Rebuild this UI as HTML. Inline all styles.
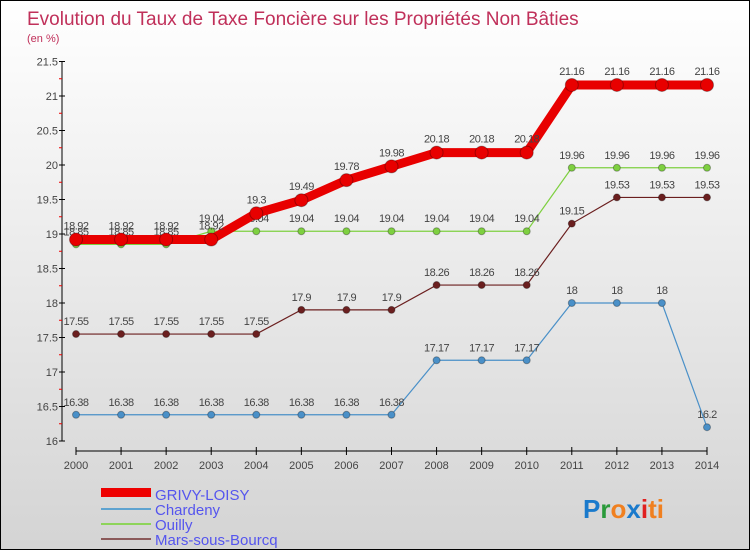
<!DOCTYPE html>
<html><head><meta charset="utf-8"><style>
body{margin:0}
#c{width:748px;height:548px;border:1px solid #000;background:linear-gradient(#fff,#d4d4d4);position:relative;font-family:"Liberation Sans",sans-serif;overflow:hidden}
</style></head><body>
<div id="c">
<svg id="s" width="748" height="548" xmlns="http://www.w3.org/2000/svg">
<text x="26" y="24" font-size="19" fill="#c0305a">Evolution du Taux de Taxe Foncière sur les Propriétés Non Bâties</text>
<text x="26" y="41" font-size="11" fill="#c0305a">(en %)</text>
<g id="axes"></g><g id="series"></g>
<g>
<rect x="100" y="487" width="50" height="9" fill="#e00"/>
<text x="154" y="499" font-size="15" fill="#5555ee">GRIVY-LOISY</text>
<rect x="100" y="507" width="50" height="2" fill="#5ea3d0"/>
<text x="154" y="514" font-size="15" fill="#5555ee">Chardeny</text>
<rect x="100" y="522" width="50" height="2" fill="#8ed45a"/>
<text x="154" y="529" font-size="15" fill="#5555ee">Ouilly</text>
<rect x="100" y="537" width="50" height="2" fill="#8b5a5a"/>
<text x="154" y="544" font-size="15" fill="#5555ee">Mars-sous-Bourcq</text>
</g>
<text x="582" y="517" font-size="26" font-weight="bold"><tspan fill="#1a7acc">P</tspan><tspan fill="#2a9a3a">r</tspan><tspan fill="#f08020">o</tspan><tspan fill="#1a7acc">x</tspan><tspan fill="#e02020">i</tspan><tspan fill="#f08020">ti</tspan></text>
</svg></div>
<script>
const years=[2000,2001,2002,2003,2004,2005,2006,2007,2008,2009,2010,2011,2012,2013,2014];
const yTicks=[16,16.5,17,17.5,18,18.5,19,19.5,20,20.5,21,21.5];
const grivy=[18.92,18.92,18.92,18.92,19.3,19.49,19.78,19.98,20.18,20.18,20.18,21.16,21.16,21.16,21.16];
const chardeny=[16.38,16.38,16.38,16.38,16.38,16.38,16.38,16.38,17.17,17.17,17.17,18,18,18,16.2];
const ouilly=[18.85,18.85,18.85,19.04,19.04,19.04,19.04,19.04,19.04,19.04,19.04,19.96,19.96,19.96,19.96];
const mars=[17.55,17.55,17.55,17.55,17.55,17.9,17.9,17.9,18.26,18.26,18.26,19.15,19.53,19.53,19.53];
const NS="http://www.w3.org/2000/svg";
const X=i=>75+i*(631/14), Y=v=>440-(v-16)*69;
function mk(t,a,p){const e=document.createElementNS(NS,t);for(const k in a)e.setAttribute(k,a[k]);p.appendChild(e);return e;}
const ax=document.getElementById('axes'), se=document.getElementById('series');
let l=mk('line',{x1:61,y1:60,x2:61,y2:440,stroke:'#000'},ax);


l=mk('line',{x1:75,y1:450,x2:706,y2:450,stroke:'#000'},ax);


yTicks.forEach(v=>{
 mk('line',{x1:58,y1:Y(v),x2:64,y2:Y(v),stroke:'#000'},ax);
 if(v<21.5) mk('line',{x1:58,y1:Y(v+0.25),x2:61,y2:Y(v+0.25),stroke:'#e00'},ax);
 const t=mk('text',{x:57,y:Y(v)+4,'font-size':11,'text-anchor':'end',fill:'#444'},ax);
 t.textContent=v;
 
 
});
years.forEach((y,i)=>{
 mk('line',{x1:X(i),y1:446,x2:X(i),y2:454,stroke:'#000'},ax);
 const t=mk('text',{x:X(i),y:468,'font-size':11,'text-anchor':'middle',fill:'#444'},ax);
 t.textContent=y;
 
 
});
function draw(vals,color,w,r,name,dy){
 const g=mk('g',{},se);
 
 
 const p=mk('polyline',{points:vals.map((v,i)=>X(i)+','+Y(v)).join(' '),fill:'none',stroke:color,'stroke-width':w},g);
 
 
 vals.forEach((v,i)=>{
  const c=mk('circle',{cx:X(i),cy:Y(v),r:r,fill:color,stroke:'rgba(0,0,0,0.3)'},g);
  
  
  const t=mk('text',{x:X(i),y:Y(v)-dy,'font-size':11,'text-anchor':'middle',fill:'#444','letter-spacing':'-0.5'},g);
  t.textContent=v;
  
  
 });
}
draw(chardeny,'#4a90c8',1.2,3.5,'chardeny',9);
draw(mars,'#6b1f1f',1.2,3.5,'mars-sous-bourcq',9);
draw(ouilly,'#7ed040',1.2,3.5,'ouilly',9);
draw(grivy,'#e80000',9,6.5,'grivy-loisy',10);
</script>
</body></html>
